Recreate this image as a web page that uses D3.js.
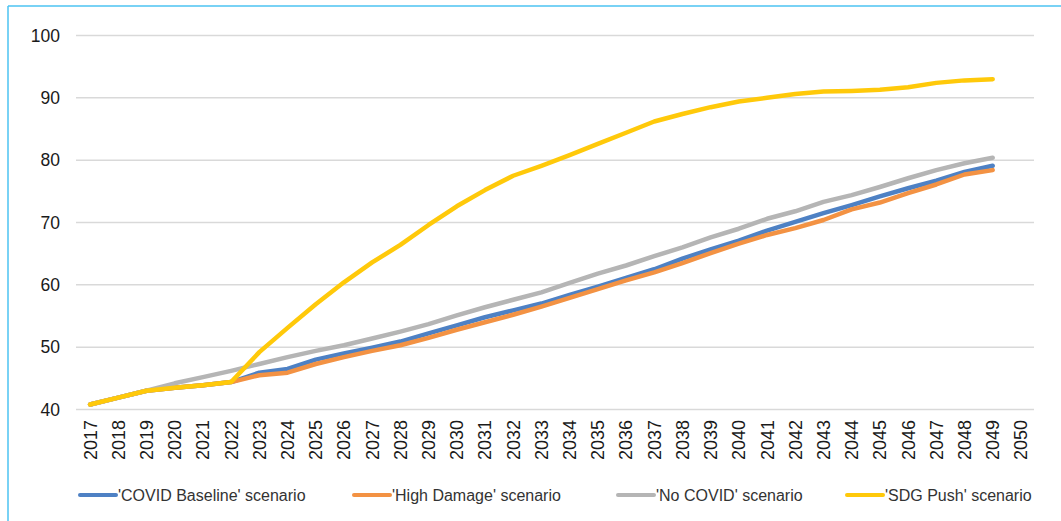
<!DOCTYPE html>
<html>
<head>
<meta charset="utf-8">
<script src="https://cdn.jsdelivr.net/npm/d3@7"></script>
<style>
  html, body { margin: 0; padding: 0; background: #fff; }
  svg { display: block; font-family: "Liberation Sans", Arial, sans-serif; }
</style>
</head>
<body>
<svg id="chart" width="1061" height="521"></svg>
<script>
// ---- data ----
const categories = d3.range(2017, 2051).map(String);
const dataYears = d3.range(2017, 2050).map(String);
const yTicks = [40, 50, 60, 70, 80, 90, 100];

const seriesNames = [
  "'COVID Baseline' scenario",
  "'High Damage' scenario",
  "'No COVID' scenario",
  "'SDG Push' scenario"
];
const covidBaseline = [40.8, 41.9, 43.0, 43.5, 43.9, 44.4, 45.9, 46.5, 48.0, 49.0, 49.9, 50.9, 52.2, 53.5, 54.8, 55.9, 57.0, 58.4, 59.7, 61.1, 62.5, 64.2, 65.7, 67.1, 68.7, 70.1, 71.5, 72.8, 74.2, 75.5, 76.7, 78.1, 79.1];
const highDamage = [40.8, 41.9, 43.0, 43.5, 43.9, 44.4, 45.5, 45.9, 47.3, 48.4, 49.4, 50.3, 51.5, 52.8, 54.0, 55.2, 56.5, 57.9, 59.3, 60.7, 62.0, 63.5, 65.1, 66.6, 68.0, 69.1, 70.4, 72.1, 73.2, 74.7, 76.1, 77.7, 78.4];
const noCovid = [40.8, 41.9, 43.0, 44.2, 45.2, 46.2, 47.3, 48.4, 49.4, 50.3, 51.4, 52.5, 53.7, 55.1, 56.4, 57.6, 58.8, 60.3, 61.8, 63.1, 64.6, 66.0, 67.6, 69.0, 70.6, 71.8, 73.3, 74.4, 75.7, 77.1, 78.4, 79.5, 80.4];
const sdgPush = [40.8, 41.9, 43.0, 43.5, 43.9, 44.4, 49.2, 53.1, 56.9, 60.4, 63.6, 66.4, 69.6, 72.6, 75.2, 77.5, 79.1, 80.8, 82.6, 84.4, 86.2, 87.4, 88.5, 89.4, 90.0, 90.6, 91.0, 91.1, 91.3, 91.7, 92.4, 92.8, 93.0];

const seriesValues = [covidBaseline, highDamage, noCovid, sdgPush];
const seriesColors = ["#4e81c4", "#f39243", "#b5b5b5", "#ffc90a"];

// ---- chart ----
const svg = d3.select("#chart");

// frame (light blue border on left and top)
svg.append("line").attr("x1", 8).attr("x2", 8).attr("y1", 6).attr("y2", 521)
  .attr("stroke", "#4dc3f2").attr("stroke-width", 1.5);
svg.append("line").attr("x1", 8).attr("x2", 1061).attr("y1", 6).attr("y2", 6)
  .attr("stroke", "#4dc3f2").attr("stroke-width", 1.5);

const x = d3.scaleBand().domain(categories).range([76, 1035]).padding(0);
const y = d3.scaleLinear().domain([40, 100]).range([409.5, 35.5]);

// gridlines
svg.append("g").selectAll("line").data(yTicks).join("line")
  .attr("x1", 76).attr("x2", 1034)
  .attr("y1", d => y(d)).attr("y2", d => y(d))
  .attr("stroke", "#d9d9d9").attr("stroke-width", 1.5);

// y axis labels
const yAxis = d3.axisLeft(y).tickValues(yTicks).tickSize(0).tickPadding(0);
const gy = svg.append("g").attr("transform", "translate(60,0)").call(yAxis);
gy.select(".domain").remove();
gy.selectAll("text")
  .attr("font-size", 17.5).attr("fill", "#1a1a1a").attr("font-family", "Liberation Sans, Arial, sans-serif");

// x axis labels (rotated)
const xAxis = d3.axisBottom(x).tickSize(0).tickPadding(0);
const gx = svg.append("g").attr("transform", "translate(0,420)").call(xAxis);
gx.select(".domain").remove();
gx.selectAll("text")
  .attr("font-size", 18).attr("fill", "#1a1a1a").attr("font-family", "Liberation Sans, Arial, sans-serif")
  .attr("transform", "rotate(-90)")
  .attr("text-anchor", "end")
  .attr("x", 0).attr("y", 0).attr("dx", 0).attr("dy", "0.36em");

// lines
const line = d3.line()
  .x((d, i) => x(dataYears[i]) + x.bandwidth() / 2)
  .y(d => y(d));

svg.append("g").selectAll("path").data(seriesValues).join("path")
  .attr("d", d => line(d))
  .attr("fill", "none")
  .attr("stroke", (d, i) => seriesColors[i])
  .attr("stroke-width", 4.5)
  .attr("stroke-linejoin", "round")
  .attr("stroke-linecap", "round");

// legend
const legendX = [80, 354, 618, 847];
const lg = svg.append("g").selectAll("g").data(seriesNames).join("g")
  .attr("transform", (d, i) => `translate(${legendX[i]},495)`);
lg.append("line").attr("x1", 0).attr("x2", 36).attr("y1", 0).attr("y2", 0)
  .attr("stroke", (d, i) => seriesColors[i]).attr("stroke-width", 4)
  .attr("stroke-linecap", "round");
lg.append("text").attr("x", 38).attr("y", 0).attr("dy", "0.35em")
  .attr("font-size", 16).attr("fill", "#333").text(d => d);
</script>
</body>
</html>
